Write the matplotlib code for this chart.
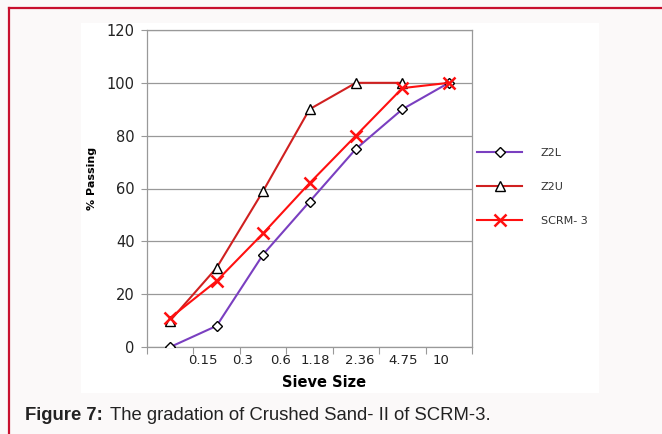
import matplotlib
matplotlib.use("Agg")
import matplotlib.pyplot as plt
from matplotlib.patches import Rectangle
from matplotlib.lines import Line2D
import numpy as np

categories = ["Pan", "0.15", "0.3", "0.6", "1.18", "2.36", "4.75"]
tick_labels = ["0.15", "0.3", "0.6", "1.18", "2.36", "4.75", "10"]
tick_label_pos = [0.70, 1.56, 2.38, 3.13, 4.08, 5.02, 5.84]
z2l = [0, 8, 35, 55, 75, 90, 100]
z2u = [10, 30, 59, 90, 100, 100, np.nan]
scrm3 = [11, 25, 43, 62, 80, 98, 100]
yticks = [0, 20, 40, 60, 80, 100, 120]

W, H = 662, 434
fig = plt.figure(figsize=(W / 100, H / 100), dpi=100)
fig.patch.set_facecolor("#fbf9f9")

# white chart panel
fig.add_artist(Rectangle((81 / W, 1 - 393 / H), (599 - 81) / W, (393 - 23) / H,
                         transform=fig.transFigure, facecolor="white", edgecolor="none", zorder=0))
# crimson border (top and left)
fig.add_artist(Line2D([9 / W, 1], [1 - 8 / H, 1 - 8 / H], transform=fig.transFigure,
                      color="#c8102e", lw=1.6))
fig.add_artist(Line2D([9 / W, 9 / W], [1 - 8 / H, 0], transform=fig.transFigure,
                      color="#c8102e", lw=1.6))

ax = fig.add_axes([147 / W, 1 - 347 / H, (472 - 147) / W, (347 - 30) / H])
ax.set_facecolor("white")
x = np.arange(len(categories))

ax.plot(x, z2l, color="#7a3fc0", lw=1.5, marker="D", markersize=5.5,
        markerfacecolor="white", markeredgecolor="black", markeredgewidth=1.0,
        label="Z2L", zorder=3)
ax.plot(x, z2u, color="#d02020", lw=1.5, marker="^", markersize=7.5,
        markerfacecolor="white", markeredgecolor="black", markeredgewidth=1.0,
        label="Z2U", zorder=3)
ax.plot(x, scrm3, color="#ff1010", lw=1.5, marker="x", markersize=9,
        markeredgecolor="#ff1010", markeredgewidth=1.8,
        label="SCRM- 3", zorder=4)

ax.set_xlim(-0.5, len(categories) - 0.5)
ax.set_ylim(0, 120)
ax.set_yticks(yticks)
ax.set_yticklabels([str(v) for v in yticks], fontsize=10.5, color="#222222")
ax.yaxis.grid(True, color="#999999", lw=0.9)
ax.set_axisbelow(True)

ax.set_xticks(np.arange(-0.5, len(categories), 1.0))
ax.set_xticklabels([])
ax.set_xticks(tick_label_pos, minor=True)
ax.set_xticklabels(tick_labels, minor=True, fontsize=9.5, color="#222222")
ax.tick_params(axis="x", which="minor", length=0, pad=5)
ax.tick_params(axis="x", which="major", length=5, color="#999999")
ax.tick_params(axis="y", length=4, color="#999999", pad=5)

for s in ["top", "right", "left", "bottom"]:
    ax.spines[s].set_color("#999999")
    ax.spines[s].set_linewidth(0.9)

ax.set_xlabel("Sieve Size", fontsize=10.5, fontweight="bold")
ax.xaxis.set_label_coords(0.545, -0.088)
ax.set_ylabel("% Passing", fontsize=8, fontweight="bold")
ax.yaxis.set_label_coords(-0.155, 0.533)

leg = ax.legend(loc="upper left", bbox_to_anchor=(0.986, 0.66), frameon=False,
                fontsize=8, handlelength=4.0, labelspacing=2.15, handletextpad=1.7)
for t in leg.get_texts():
    t.set_color("#333333")

fig.text(25 / W, 1 - 416 / H, "Figure 7:", fontsize=13.3, fontweight="bold",
         family="Liberation Sans", va="center", color="#222222")
fig.text(110 / W, 1 - 416 / H, "The gradation of Crushed Sand- II of SCRM-3.",
         fontsize=13.3, family="Liberation Sans", va="center", color="#222222")

fig.savefig("out.png", dpi=100, facecolor=fig.get_facecolor())
